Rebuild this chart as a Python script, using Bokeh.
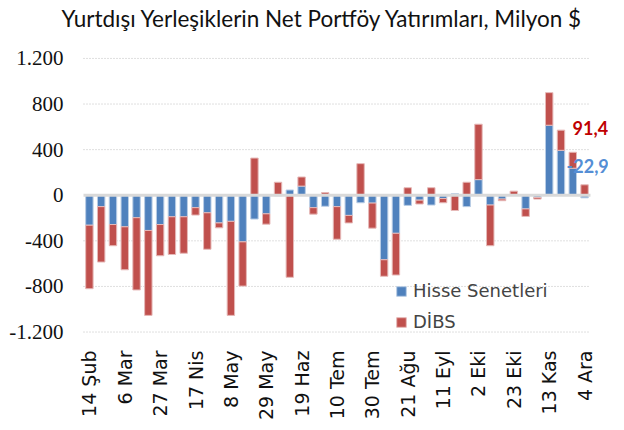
from bokeh.plotting import figure
from bokeh.models import (ColumnDataSource, FixedTicker, Label, Legend,
                          LegendItem, Range1d)
from bokeh.embed import file_html
from bokeh.resources import INLINE

title_text = "Yurtdışı Yerleşiklerin Net Portföy Yatırımları, Milyon $"

weeks = ["14 Şub", "21 Şub", "28 Şub", "6 Mar", "13 Mar", "20 Mar", "27 Mar",
         "3 Nis", "10 Nis", "17 Nis", "24 Nis", "1 May", "8 May", "15 May",
         "22 May", "29 May", "5 Haz", "12 Haz", "19 Haz", "26 Haz", "3 Tem",
         "10 Tem", "17 Tem", "24 Tem", "30 Tem", "7 Ağu", "14 Ağu", "21 Ağu",
         "28 Ağu", "4 Eyl", "11 Eyl", "18 Eyl", "25 Eyl", "2 Eki", "9 Eki",
         "16 Eki", "23 Eki", "30 Eki", "6 Kas", "13 Kas", "20 Kas", "27 Kas",
         "4 Ara"]

hisse = [-263, -100, -257, -277, -197, -309, -257, -189, -189, -109, -154,
         -243, -229, -409, -209, -163, -5, 46, 80, -109, -97, -100, -177, -66,
         -69, -566, -334, -89, -43, -86, -29, 14, -100, 137, -86, -34, 2,
         -120, -20, 614, 394, 237, -22.9]

dibs = [-557, -486, -186, -377, -634, -745, -274, -331, -320, -65, -320, -43,
        -825, -388, 326, -91, 114, -720, 80, -57, 23, -286, -66, 277, -220,
        -145, -366, 66, -34, 66, -37, -134, 114, 486, -357, -14, 34, -66, -14,
        286, 177, 140, 91.4]

y_ticks = [-1200, -800, -400, 0, 400, 800, 1200]
y_tick_labels = ["-1.200", "-800", "-400", "0", "400", "800", "1.200"]

series_names = ["Hisse Senetleri", "DİBS"]
blue = "#4F81BD"
red = "#C0504D"

n = len(weeks)
x = list(range(n))
# Excel-style stacking: positives and negatives stack separately
h_bottom = [0.0] * n
h_top = list(hisse)
d_bottom, d_top = [], []
for h, d in zip(hisse, dibs):
    if (h >= 0) == (d >= 0):
        d_bottom.append(h)
        d_top.append(h + d)
    else:
        d_bottom.append(0.0)
        d_top.append(d)

src = ColumnDataSource(dict(x=x, hb=h_bottom, ht=h_top, db=d_bottom, dt=d_top))

font = "DejaVu Sans"

# The frame covers the whole canvas except the x-axis strip, so the title,
# y tick labels and data labels (drawn inside it) are never clipped.
W, H = 608, 422
bottom = 73
cat_left_px = 83          # where the first category slot begins
zero_px = 199.3           # vertical position of the zero line
px_per_cat = 11.79
px_per_unit = 0.11667
x_start = -0.5 - cat_left_px / px_per_cat
x_end = -0.5 + (W - cat_left_px) / px_per_cat
y_end = zero_px / px_per_unit
y_start = -(H - bottom - zero_px) / px_per_unit

p = figure(width=W, height=H, output_backend="svg", toolbar_location=None,
           x_range=Range1d(x_start, x_end),
           y_range=Range1d(y_start, y_end), y_axis_location=None,
           min_border_left=0, min_border_right=0, min_border_top=0,
           min_border_bottom=bottom)
p.outline_line_color = None

# dotted horizontal grid lines over the category area
grid_y = [t for t in y_ticks if t != 0]
p.segment(x0=[-0.5] * len(grid_y), x1=[n - 0.5] * len(grid_y), y0=grid_y,
          y1=grid_y, line_color="#BFBFBF", line_dash="1 2", line_width=1)

r_h = p.vbar(x="x", bottom="hb", top="ht", width=0.63, source=src,
             fill_color=blue, line_color="#B9CDE5", line_width=1)
r_d = p.vbar(x="x", bottom="db", top="dt", width=0.63, source=src,
             fill_color=red, line_color="#E6B9B8", line_width=1)

p.segment(x0=[-0.5], x1=[n - 0.5], y0=[0], y1=[0], line_color="#D9D9D9",
          line_width=3)

# y tick labels
p.text(x=[-0.5] * len(y_ticks), y=y_ticks, text=y_tick_labels, x_offset=-20,
       text_align="right", text_baseline="middle", text_font="Roboto",
       text_font_size="21px", text_color="#111111")

# x axis
p.xaxis.ticker = FixedTicker(ticks=x[::3])
p.xaxis.major_label_overrides = {i: weeks[i] for i in x[::3]}
p.xaxis.major_label_orientation = 3.14159265 / 2
p.xaxis.axis_line_color = None
p.xaxis.major_tick_line_color = None
p.xaxis.minor_tick_line_color = None
p.xaxis.major_label_text_font = font
p.xaxis.major_label_text_font_size = "19px"
p.xaxis.major_label_text_color = "#111111"
p.xaxis.major_label_standoff = 3

p.xgrid.grid_line_color = None
p.ygrid.grid_line_color = None

legend = Legend(items=[LegendItem(label=series_names[0], renderers=[r_h]),
                       LegendItem(label=series_names[1], renderers=[r_d])],
                location=(391, 5), border_line_alpha=0,
                background_fill_alpha=0, label_text_font=font,
                label_text_font_size="18px", glyph_width=12, glyph_height=12,
                spacing=10, padding=4, label_standoff=6)
p.add_layout(legend)

# title
p.add_layout(Label(x=19.77, y=1554, text=title_text, text_font="Lato",
                   text_font_size="22.5px", text_color="#111111",
                   text_align="center", text_baseline="middle"))

def fmt(v):
    return f"{v:.1f}".replace(".", ",")

last = n - 1
p.add_layout(Label(x=last - 1.02, y=590, text=fmt(dibs[-1]),
                   text_color="#C00000", text_font="Lato",
                   text_font_style="bold", text_font_size="18px",
                   text_baseline="middle", text_align="left"))
p.add_layout(Label(x=last - 1.53, y=260, text=fmt(hisse[-1]),
                   text_color="#558ED5", text_font="Lato",
                   text_font_style="bold", text_font_size="18px",
                   text_baseline="middle", text_align="left"))

open("out.html", "w").write(file_html(p, INLINE))
